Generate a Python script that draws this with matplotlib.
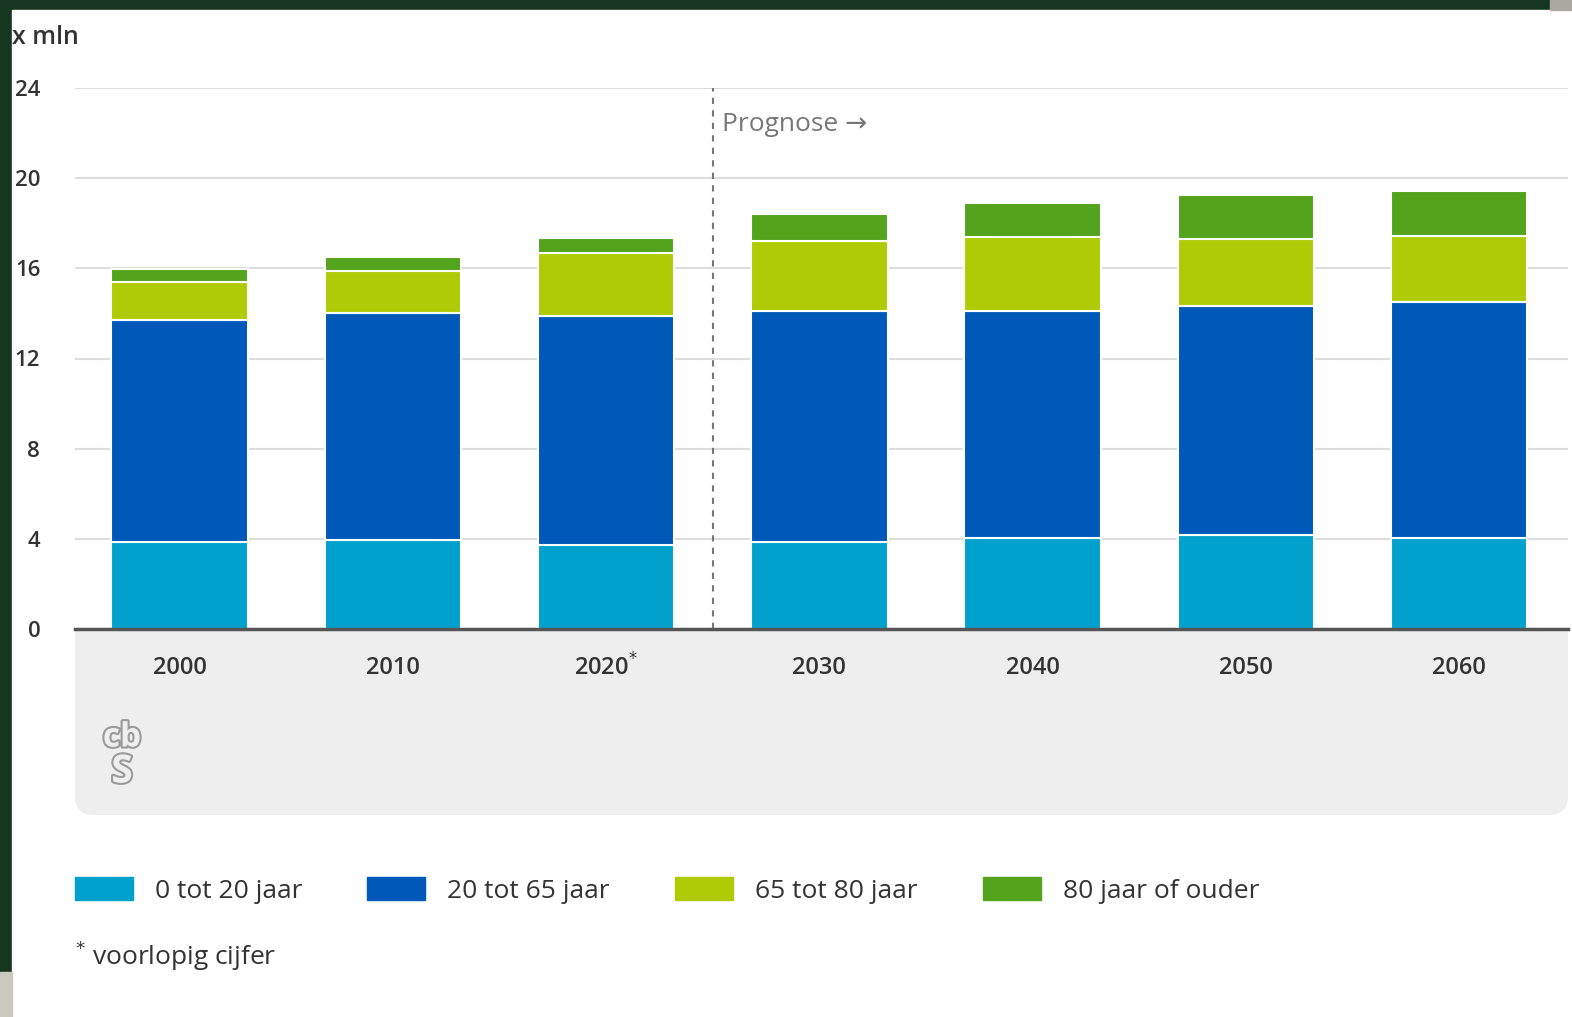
import matplotlib
matplotlib.use('Agg')
import matplotlib.pyplot as plt
import matplotlib.patheffects as pe
from matplotlib.patches import Rectangle, FancyBboxPatch
from matplotlib.transforms import blended_transform_factory
import numpy as np

plt.rcParams['font.family'] = ['Open Sans', 'DejaVu Sans']

# data (x mln)
jaren = ['2000', '2010', '2020$^{*}$', '2030', '2040', '2050', '2060']
leeftijd_0_20 = [3.87, 3.96, 3.73, 3.87, 4.04, 4.18, 4.04]
leeftijd_20_65 = [9.83, 10.04, 10.17, 10.23, 10.06, 10.17, 10.46]
leeftijd_65_80 = [1.70, 1.86, 2.80, 3.10, 3.30, 2.95, 2.95]
leeftijd_80_plus = [0.55, 0.64, 0.65, 1.20, 1.50, 1.95, 2.00]
reeksen = ['0 tot 20 jaar', '20 tot 65 jaar', '65 tot 80 jaar', '80 jaar of ouder']
kleuren = ['#00a1cd', '#0058b8', '#afcb05', '#53a31d']
yticks = [0, 4, 8, 12, 16, 20, 24]

W, H = 1572, 1017
fig = plt.figure(figsize=(W / 100, H / 100), dpi=100)
fig.patch.set_facecolor('#17361f')

def px(x, y, w, h):
    # pixel box (top-left origin) -> figure fraction
    return (x / W, 1 - (y + h) / H, w / W, h / H)

# white panel + small grey corners
x0, y0, w0, h0 = px(12, 10, W - 12, H - 10)
fig.patches.append(Rectangle((x0, y0), w0, h0, transform=fig.transFigure, color='white', zorder=-3))
x0, y0, w0, h0 = px(0, 972, 12, 45)
fig.patches.append(Rectangle((x0, y0), w0, h0, transform=fig.transFigure, color='#c9c9c2', zorder=-3))
x0, y0, w0, h0 = px(1550, 0, 22, 10)
fig.patches.append(Rectangle((x0, y0), w0, h0, transform=fig.transFigure, color='#a9a9a2', zorder=-3))

# grey band under the x axis
x0, y0, w0, h0 = px(75, 560, 1493, 255)
fig.patches.append(FancyBboxPatch((x0, y0), w0, h0, transform=fig.transFigure,
                                  boxstyle='round,pad=0,rounding_size=0.012',
                                  mutation_aspect=W / H,
                                  facecolor='#eeeeee', edgecolor='none', zorder=-2))

ax = fig.add_axes(px(75, 88, 1493, 541))
ax.set_facecolor('white')

x = np.arange(len(jaren))
bottom = np.zeros(len(jaren))
for vals, kleur in zip([leeftijd_0_20, leeftijd_20_65, leeftijd_65_80, leeftijd_80_plus], kleuren):
    ax.bar(x, vals, width=0.64, bottom=bottom, color=kleur, edgecolor='white', linewidth=1.5, zorder=3)
    bottom += np.array(vals)

ax.set_xlim(-0.49, 6.51)
ax.set_ylim(0, 24)
ax.set_yticks(yticks)
ax.set_yticklabels([str(t) for t in yticks], fontsize=16, color='#333333', fontweight='semibold')
ax.tick_params(axis='y', length=0, pad=25)
ax.set_xticks([])
ax.grid(axis='y', color='#dddddd', linewidth=1.5, zorder=0)
for s in ['top', 'right', 'left']:
    ax.spines[s].set_visible(False)
ax.spines['bottom'].set_color('#555555')
ax.spines['bottom'].set_linewidth(2.5)
ax.spines['bottom'].set_zorder(4)

# x labels in the grey band
tr = blended_transform_factory(ax.transData, ax.transAxes)
for xi, lab in zip(x, jaren):
    ax.text(xi, -0.072, lab, transform=tr, ha='center', va='center', fontsize=17,
            color='#333333', fontweight='semibold', clip_on=False)

# prognose divider
ax.axvline(2.5, ymin=0, ymax=1, color='#777777', linestyle=(0, (3, 3)), linewidth=1.5, zorder=2)
ax.text(2.545, 22.4, 'Prognose \u2192', fontsize=19, color='#777777', va='center', ha='left')

fig.text(12 / W, 1 - 37 / H, 'x mln', fontsize=18, color='#333333', va='center', ha='left',
         fontweight='semibold')

# cbs logo (rough)
fig.text(122 / W, 1 - 738 / H, 'cb', fontsize=24, color='#eeeeee', ha='center', va='center',
         fontweight='bold', path_effects=[pe.withStroke(linewidth=3, foreground='#9a9a9a')])
fig.text(122 / W, 1 - 772 / H, 'S', fontsize=28, color='#eeeeee', ha='center', va='center',
         fontweight='bold', path_effects=[pe.withStroke(linewidth=3, foreground='#9a9a9a')])

# legend
leg_x = [75, 367, 675, 983]
for lx, naam, kleur in zip(leg_x, reeksen, kleuren):
    x0, y0, w0, h0 = px(lx, 877, 58, 23)
    fig.patches.append(Rectangle((x0, y0), w0, h0, transform=fig.transFigure, color=kleur))
    fig.text((lx + 80) / W, 1 - 892 / H, naam, fontsize=19, color='#333333', va='center', ha='left')

fig.text(75 / W, 1 - 956 / H, '$^{*}$ voorlopig cijfer', fontsize=19, color='#333333', va='center', ha='left')

fig.savefig('out.png', dpi=100, facecolor=fig.get_facecolor())
